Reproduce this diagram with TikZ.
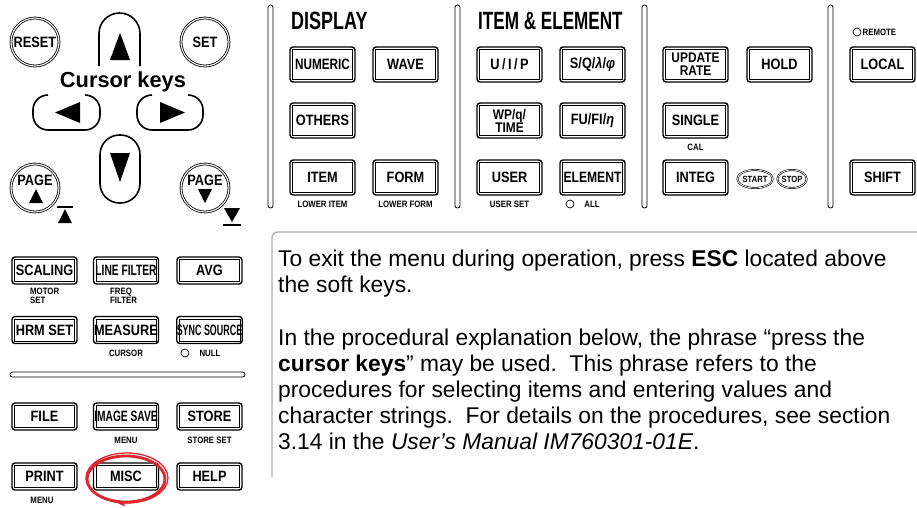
\documentclass[tikz,border=0pt]{standalone}
\usepackage{fontspec}
\setmainfont{Liberation Sans}
\newfontfamily\kf{Liberation Sans}[FakeStretch=0.85]
\newfontfamily\hf{Liberation Sans}[FakeStretch=0.72]
\usetikzlibrary{shapes.geometric}
\definecolor{mred}{RGB}{222,38,44}
\definecolor{boxgray}{RGB}{170,170,170}
\newcommand\sx[2]{\scalebox{#1}[1]{#2}}
\begin{document}
\begin{tikzpicture}[x=1pt,y=-1pt,
  btn/.style={draw, line width=1.4pt, rounded corners=3pt, minimum width=65pt,
    minimum height=35pt, inner sep=0pt, align=center,
    font=\kf\bfseries\fontsize{15}{12.5}\selectfont,
    path picture={\draw[line width=0.6pt,sharp corners]
      ([shift={(2.3pt,-2.3pt)}]path picture bounding box.north west) rectangle
      ([shift={(-2.3pt,2.3pt)}]path picture bounding box.south east);}},
  two/.style={font=\kf\bfseries\fontsize{14}{13}\selectfont},
  sbtn/.style={btn, minimum height=27pt},
  rkey/.style={draw, circle, line width=0.8pt, double, double distance=1.1pt,
    minimum size=48pt, inner sep=0pt, align=center,
    font=\kf\bfseries\fontsize{15}{13}\selectfont},
  okey/.style={draw, ellipse, line width=0.6pt, double, double distance=0.7pt,
    minimum height=18pt, inner sep=0pt, font=\kf\bfseries\fontsize{9}{9}\selectfont},
  ckey/.style={line width=1.6pt},
  sub/.style={inner sep=0pt, font=\kf\bfseries\fontsize{9.2}{8.5}\selectfont, align=left},
  led/.style={draw, circle, line width=0.7pt, minimum size=8pt, inner sep=0pt},
  sep/.style={draw, line width=0.8pt, rounded corners=2.4pt},
  head/.style={inner sep=0pt, anchor=west, font=\hf\bfseries\fontsize{25}{25}\selectfont}]
\useasboundingbox (0,0) rectangle (917,507);

% ---------- cursor cluster ----------
\node[rkey] (reset) at (35,42) {RESET};
\node[rkey] (set) at (205,42) {SET};
\node[rkey] (pgup) at (35,188) {};
\node[rkey] (pgdn) at (205,188) {};
\node[inner sep=0pt, font=\kf\bfseries\fontsize{15}{13}\selectfont] (pgupt) at (35,180) {PAGE};
\node[inner sep=0pt, font=\kf\bfseries\fontsize{15}{13}\selectfont] (pgdnt) at (205,180) {PAGE};
\fill (29,203) -- (43,203) -- (36,189) -- cycle;
\fill (198,189) -- (212,189) -- (205,203) -- cycle;
% top/bottom marks
\draw[line width=2pt] (57,207) -- (73,207);
\fill (58,223) -- (72,223) -- (65,209) -- cycle;
\fill (224,208) -- (240,208) -- (232,222) -- cycle;
\draw[line width=2pt] (223,225) -- (241,225);

% up key (bottom hidden by label)
\draw[ckey] (99,66) -- (99,33.5) arc[start angle=180,end angle=0,radius=20.5pt] -- (140,66);
\fill (110,60) -- (130,60) -- (120,33) -- cycle;
% left key
\draw[ckey] (48,95) arc[start angle=90,end angle=180,radius=15pt] -- (33,115)
  arc[start angle=180,end angle=270,radius=15pt] -- (85,130)
  arc[start angle=270,end angle=360,radius=15pt] -- (100,110)
  arc[start angle=0,end angle=90,radius=15pt];
\fill (55,112.5) -- (80,102) -- (80,123) -- cycle;
% right key
\draw[ckey] (152,95) arc[start angle=90,end angle=180,radius=15pt] -- (137,115)
  arc[start angle=180,end angle=270,radius=15pt] -- (188,130)
  arc[start angle=270,end angle=360,radius=15pt] -- (203,110)
  arc[start angle=0,end angle=90,radius=15pt];
\fill (185,112.5) -- (160,102) -- (160,123) -- cycle;
% down key
\draw[ckey, rounded corners=19.5pt] (100,135) rectangle (140,203);
\fill (110,153) -- (130,153) -- (120,182) -- cycle;
\node[inner sep=0pt, font=\bfseries\fontsize{21.8}{21.8}\selectfont] (curlab) at (123,82) {Cursor keys};

% ---------- separators ----------
\draw[sep] (268,5) rectangle (273,208);
\draw[sep] (455,5) rectangle (460,208);
\draw[sep] (642,5) rectangle (647,208);
\draw[sep] (828,5) rectangle (833,208);
\draw[sep] (10,372) rectangle (245,377);

% ---------- headings ----------
\node[head] (hdisp) at (291,21) {DISPLAY};
\node[head] (hitem) at (478,21) {\sx{0.95}{ITEM \& ELEMENT}};

% ---------- top buttons ----------
\node[btn] (numeric) at (322.5,64.5) {\sx{0.92}{NUMERIC}};
\node[btn] (wave) at (405.5,64.5) {WAVE};
\node[btn] (others) at (322.5,120.5) {OTHERS};
\node[btn] (item) at (322.5,177.5) {ITEM};
\node[btn] (form) at (405.5,177.5) {FORM};
\node[sub] (lowitem) at (322.5,204) {LOWER ITEM};
\node[sub] (lowform) at (405.5,204) {LOWER FORM};

\node[btn] (uip) at (509.5,64.5) {U\,/\,I\,/\,P};
\node[btn] (sq) at (592.5,64.5) {S/Q/\textit{λ}/\textit{φ}};
\node[btn, two] (wp) at (509.5,120.5) {WP/q/\\TIME};
\node[btn] (fu) at (592.5,120.5) {FU/FI/\textit{η}};
\node[btn] (user) at (509.5,177.5) {USER};
\node[btn] (element) at (592.5,177.5) {\sx{0.95}{ELEMENT}};
\node[sub] (userset) at (509.5,204) {USER SET};
\node[led] (allled) at (570,204) {};
\node[sub] (all) at (592,204) {ALL};

\node[btn, two] (update) at (695.5,64.5) {UPDATE\\RATE};
\node[btn] (hold) at (779.5,64.5) {HOLD};
\node[btn] (single) at (695.5,120.5) {SINGLE};
\node[sub] (cal) at (695.5,147) {CAL};
\node[btn] (integ) at (695.5,177.5) {INTEG};
\node[okey, minimum width=26pt] (start) at (755,179) {START};
\node[okey, minimum width=22pt] (stop) at (792,179) {STOP};

\node[led] (remled) at (857,32) {};
\node[sub, anchor=west] (remote) at (862.5,32) {REMOTE};
\node[btn] (local) at (882.5,64.5) {LOCAL};
\node[btn] (shift) at (882.5,177.5) {SHIFT};

% ---------- bottom-left buttons ----------
\node[sbtn] (scaling) at (44.5,270.5) {SCALING};
\node[sbtn] (linefilter) at (126,270.5) {\sx{0.8}{LINE FILTER}};
\node[sbtn] (avg) at (209.5,270.5) {AVG};
\node[sub, anchor=north west] (motor) at (30,288) {MOTOR\\SET};
\node[sub, anchor=north west] (freq) at (110,288) {FREQ\\FILTER};
\node[sbtn] (hrm) at (44.5,330) {HRM SET};
\node[sbtn] (measure) at (126,330) {MEASURE};
\node[sbtn] (sync) at (209.5,330) {\sx{0.7}{SYNC SOURCE}};
\node[sub] (cursor) at (126,353) {CURSOR};
\node[led] (nullled) at (185,353) {};
\node[sub] (null) at (210,353) {NULL};

\node[sbtn] (file) at (44.5,416.5) {FILE};
\node[sbtn] (imgsave) at (126,416.5) {\sx{0.8}{IMAGE SAVE}};
\node[sbtn] (store) at (209.5,416.5) {STORE};
\node[sub] (menu1) at (126,440) {MENU};
\node[sub] (storeset) at (209.5,440) {STORE SET};
\node[sbtn] (print) at (44.5,476.5) {PRINT};
\node[sbtn] (misc) at (126,476.5) {MISC};
\node[sbtn] (help) at (209.5,476.5) {HELP};
\node[sub] (menu2) at (42,500) {MENU};

% red hand-drawn loop around MISC
\draw[mred, line width=2.8pt] (126,479) ellipse[x radius=39pt, y radius=23pt];
\draw[mred, line width=1.3pt] (127,478) ellipse[x radius=41pt, y radius=25pt];
\draw[mred, line width=2pt, line cap=round] (118,502) -- (124,505);

% ---------- text box ----------
\draw[boxgray, line width=1.3pt] (272,477) -- (272,238) arc[start angle=180,end angle=90,radius=6pt] -- (917,232);
\node[anchor=north west, inner sep=0pt, align=left,
  font=\fontsize{22.8}{26.1}\selectfont] (txt) at (278,250)
 {To exit the menu during operation, press \textbf{ESC} located above\\
  the soft keys.\\[26.1pt]
  In the procedural explanation below, the phrase “press the\\
  \textbf{cursor keys}” may be used.\ \ This phrase refers to the\\
  procedures for selecting items and entering values and\\
  character strings.\ \ For details on the procedures, see section\\
  3.14 in the \textit{User’s Manual IM760301-01E}.};
\end{tikzpicture}
\end{document}
